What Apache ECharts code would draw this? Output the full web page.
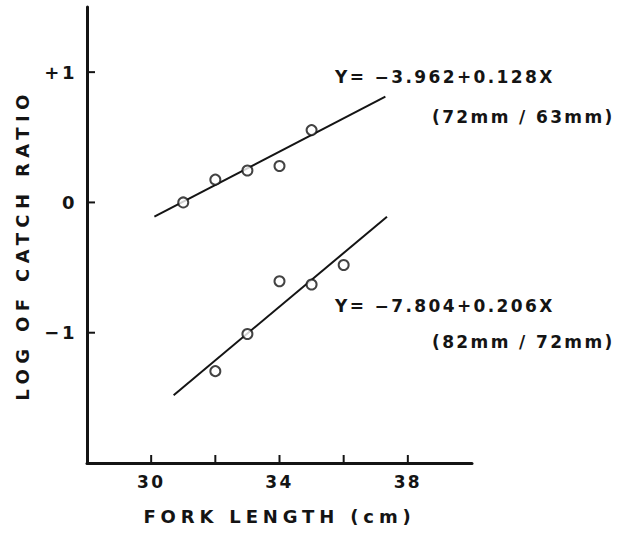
<!DOCTYPE html>
<html>
<head>
<meta charset="utf-8">
<script src="https://cdn.jsdelivr.net/npm/echarts@6/dist/echarts.min.js"></script>
<style>
  html, body { margin: 0; padding: 0; background: #fff; }
  #chart { width: 621px; height: 533px; }
  #chart text { letter-spacing: 0.14em; }
</style>
</head>
<body>
<div id="chart"></div>
<script>
// Fork length (cm) of each sampled length class
const lengthsUpper = [31, 32, 33, 34, 35];
const lengthsLower = [32, 33, 34, 35, 36];

// Log of catch ratio for each mesh pair
const logRatioUpper = [0.0, 0.175, 0.245, 0.28, 0.555];   // 72mm / 63mm
const logRatioLower = [-1.295, -1.01, -0.605, -0.63, -0.48]; // 82mm / 72mm

// Fitted regressions: Y = a + bX, and the length span each line covers
const fitUpper = { a: -3.962, b: 0.128, from: 30.1, to: 37.3 };
const fitLower = { a: -7.804, b: 0.206, from: 30.7, to: 37.35 };

const equationUpper = 'Y= −3.962+0.128X';
const pairUpper = '(72mm / 63mm)';
const equationLower = 'Y= −7.804+0.206X';
const pairLower = '(82mm / 72mm)';

const xName = 'FORK LENGTH (cm)';
const yName = 'LOG OF CATCH RATIO';

// Axis extents, ticks and labels
const xRange = [28, 40];
const yRange = [-2, 1.5];
const xTicks = [30, 32, 34, 36, 38];
const xTickLabels = [30, 34, 38];
const yTicks = [-1, 0, 1];
const yTickText = { '-1': '−1', '0': '0', '1': '+1' };

const FONT = "'DejaVu Sans', sans-serif";
const INK = '#141414';
const TICK_LEN = 8;

function fitLine(fit) {
  return [fit.from, fit.to].map(x => [x, fit.a + fit.b * x]);
}
function zip(xs, ys) { return xs.map((x, i) => [x, ys[i]]); }

const chart = echarts.init(document.getElementById('chart'), null, { renderer: 'svg' });

const pointStyle = {
  type: 'scatter',
  symbol: 'circle',
  symbolSize: 10,
  itemStyle: { color: '#fff', borderColor: INK, borderWidth: 2 },
  z: 5
};
const lineStyle = {
  type: 'line',
  showSymbol: false,
  lineStyle: { color: INK, width: 2 },
  z: 3
};

const equationTexts = [
  { type: 'text', left: 335, top: 68, style: { text: equationUpper, font: 'bold 17px ' + FONT, fill: INK } },
  { type: 'text', left: 432, top: 108, style: { text: pairUpper, font: 'bold 17px ' + FONT, fill: INK } },
  { type: 'text', left: 335, top: 297, style: { text: equationLower, font: 'bold 17px ' + FONT, fill: INK } },
  { type: 'text', left: 432, top: 333, style: { text: pairLower, font: 'bold 17px ' + FONT, fill: INK } }
];

chart.setOption({
  animation: false,
  backgroundColor: '#fff',
  grid: { left: 87, right: 149, top: 7, bottom: 70 },
  xAxis: {
    type: 'value',
    min: xRange[0], max: xRange[1],
    name: xName,
    nameLocation: 'middle',
    nameGap: 44,
    nameTextStyle: { fontFamily: FONT, fontWeight: 'bold', fontSize: 18, color: INK },
    axisLine: { onZero: false, lineStyle: { color: INK, width: 3 } },
    axisTick: { show: false },
    axisLabel: { customValues: xTickLabels, margin: 10, fontFamily: FONT, fontWeight: 'bold', fontSize: 17, color: INK },
    splitLine: { show: false }
  },
  yAxis: {
    type: 'value',
    min: yRange[0], max: yRange[1],
    name: yName,
    nameLocation: 'middle',
    nameGap: 56,
    nameTextStyle: { fontFamily: FONT, fontWeight: 'bold', fontSize: 18, color: INK, padding: [0, 20, 0, 0] },
    axisLine: { onZero: false, lineStyle: { color: INK, width: 3 } },
    axisTick: { show: false },
    axisLabel: {
      customValues: yTicks, margin: 10,
      fontFamily: FONT, fontWeight: 'bold', fontSize: 18, color: INK,
      formatter: v => yTickText[String(Math.round(v))]
    },
    splitLine: { show: false }
  },
  series: [
    Object.assign({ data: fitLine(fitUpper) }, lineStyle),
    Object.assign({ data: fitLine(fitLower) }, lineStyle),
    Object.assign({ data: zip(lengthsUpper, logRatioUpper) }, pointStyle),
    Object.assign({ data: zip(lengthsLower, logRatioLower) }, pointStyle)
  ],
  graphic: equationTexts
});

// Inward tick marks, located on the axes through the grid's own scales
const tickMarks = [];
xTicks.forEach(v => {
  const p = chart.convertToPixel({ gridIndex: 0 }, [v, yRange[0]]);
  tickMarks.push({ type: 'line', z: 10, shape: { x1: p[0], y1: p[1], x2: p[0], y2: p[1] - TICK_LEN },
    style: { stroke: INK, lineWidth: 2 } });
});
yTicks.forEach(v => {
  const p = chart.convertToPixel({ gridIndex: 0 }, [xRange[0], v]);
  tickMarks.push({ type: 'line', z: 10, shape: { x1: p[0], y1: p[1], x2: p[0] + TICK_LEN, y2: p[1] },
    style: { stroke: INK, lineWidth: 2 } });
});
chart.setOption({ graphic: equationTexts.concat(tickMarks) }, { replaceMerge: ['graphic'] });

// Wider tracking for the two axis titles
function trackTitles() {
  document.querySelectorAll('#chart text').forEach(t => {
    if (t.textContent === xName) t.style.letterSpacing = '0.27em';
    if (t.textContent === yName) t.style.letterSpacing = '0.3em';
  });
}
chart.on('finished', trackTitles);
trackTitles();
</script>
</body>
</html>
